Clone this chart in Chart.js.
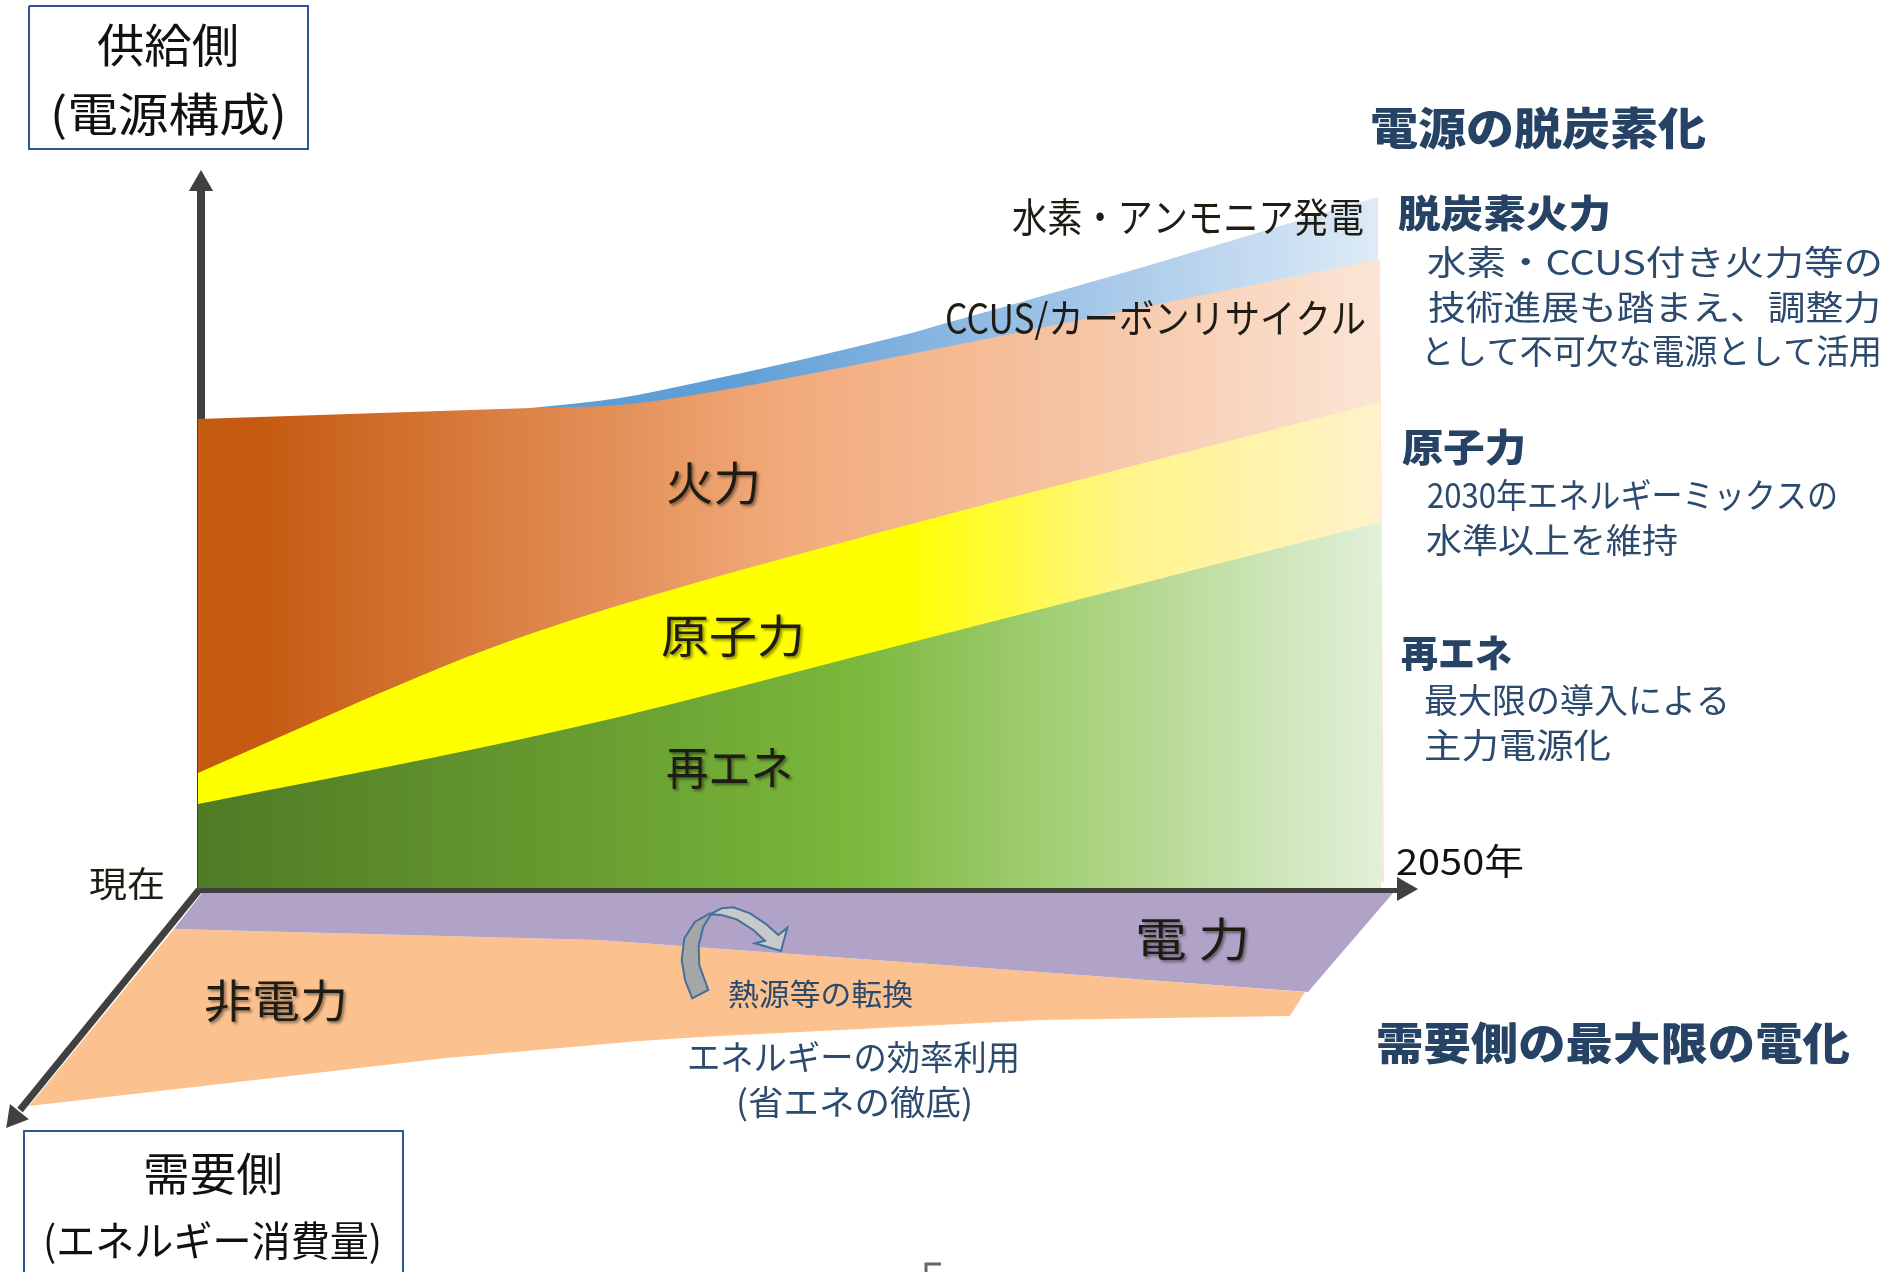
<!DOCTYPE html>
<html lang="ja">
<head>
<meta charset="utf-8">
<title>電源の脱炭素化と需要側の電化</title>
<script src="https://cdn.jsdelivr.net/npm/chart.js@4/dist/chart.umd.min.js"></script>
<style>
    html, body { margin: 0; padding: 0; background: #fff; overflow: hidden; }
    #chart { display: block; }
</style>
</head>
<body>
<canvas id="chart" width="1889" height="1272"></canvas>
<script>
// Supply side: upper edge of each band
const renewableX = [198, 436, 619, 850, 1155, 1381];
const renewableY = [804, 757, 717, 658, 580, 522];
const nuclearX = [198, 418, 507, 637, 900, 1380.5];
const nuclearY = [773, 677, 642, 600, 527, 402];
const thermalX = [198, 531, 620, 700, 900, 1380];
const thermalY = [419, 408, 405, 394, 356, 259];
const hydrogenX = [531, 620, 700, 900, 950, 1150, 1267, 1378];
const hydrogenY = [408, 398, 382, 336, 322, 265, 230, 197];
// thin slanted edge where the thermal band leans out past the others
const thermalLeanX = [1380, 1384];
const thermalLeanY = [259, 882];

// Demand side: the two bands meet along electricBottom
const electricTopX = [174, 202, 1393];
const electricTopY = [929, 893, 893];
const electricBottomX = [174, 598, 640, 1040, 1308, 1393];
const electricBottomY = [929, 940, 943, 972, 992, 893];
const nonElectricTopX = [29, 174, 598, 640, 1040, 1305];
const nonElectricTopY = [1106, 929, 940, 943, 972, 992];
const nonElectricBottomX = [29, 446, 640, 700, 1040, 1290, 1305];
const nonElectricBottomY = [1106, 1058, 1041, 1037, 1020, 1016, 992];

// Axes: shafts, then arrow tips
const axisUpX = [201, 201];
const axisUpY = [890, 190];
const axisRightX = [199, 1400];
const axisRightY = [890.5, 890.5];
const axisDownX = [199, 20];
const axisDownY = [890, 1110];

// Frames around the two axis titles, and the page number cut off at the bottom
const supplyBoxX = [29, 29, 308, 308, 29];
const supplyBoxY = [6, 149, 149, 6, 6];
const demandBoxX = [24, 24, 403, 403];
const demandBoxY = [1290, 1131, 1131, 1290];
const pageMarkX = [926, 926, 941];
const pageMarkY = [1272, 1264, 1264];

// Curved arrow between the demand bands
const switchTailX = [692.3, 685, 681.7, 684.3, 695, 710, 710.7, 703.3, 698.7, 699.3, 708.3];
const switchTailY = [998.3, 980, 960, 938.3, 921.7, 913.3, 915, 926.7, 945, 965, 990];
const switchHeadX = [710, 721.7, 733.3, 750, 765, 778.3, 787.3, 781, 755, 765, 753.3, 736.7, 721.7];
const switchHeadY = [914.3, 908.3, 907.3, 913.3, 923.3, 935, 927.7, 951, 943.3, 940.7, 930, 919.3, 915];

const INK = '#1f1c14';
const NAVY = '#264365';
const BLUE_TEXT = '#2b4a6d';

// text, left, right, vertical centre, font size, weight, colour, shadow
const labels = [
    ['供給側', 97, 239, 45, 46, 400, '#111', false],
    ['(電源構成)', 50, 287, 114, 46, 400, '#111', false],
    ['現在', 89, 165, 884, 35, 400, INK, false],
    ['2050年', 1396, 1524, 861, 36, 400, '#111', false],
    ['需要側', 143, 283, 1174, 45, 400, '#111', false],
    ['(エネルギー消費量)', 43, 382, 1240, 41, 400, '#111', false],
    ['非電力', 204, 348, 1001, 45, 400, INK, true],
    ['火力', 666, 761, 483, 46, 400, INK, true],
    ['原子力', 661, 805, 636, 45, 400, INK, true],
    ['再エネ', 666, 793, 768, 45, 400, INK, true],
    ['電 力', 1135, 1250, 939, 46, 400, INK, true],
    ['水素・アンモニア発電', 1012, 1364, 217, 40, 400, INK, false],
    ['CCUS/カーボンリサイクル', 945, 1366, 318, 40, 400, INK, false],
    ['電源の脱炭素化', 1370, 1706, 128, 44, 900, NAVY, false],
    ['脱炭素火力', 1398, 1611, 213, 38, 900, NAVY, false],
    ['水素・CCUS付き火力等の', 1427, 1883, 262, 34, 400, BLUE_TEXT, false],
    ['技術進展も踏まえ、調整力', 1428, 1881, 307, 34, 400, BLUE_TEXT, false],
    ['として不可欠な電源として活用', 1421, 1882, 351, 34, 400, BLUE_TEXT, false],
    ['原子力', 1402, 1526, 447, 38, 900, NAVY, false],
    ['2030年エネルギーミックスの', 1427, 1838, 495, 34, 400, BLUE_TEXT, false],
    ['水準以上を維持', 1426, 1678, 540, 34, 400, BLUE_TEXT, false],
    ['再エネ', 1401, 1512, 653, 38, 900, NAVY, false],
    ['最大限の導入による', 1424, 1730, 700, 34, 400, BLUE_TEXT, false],
    ['主力電源化', 1424, 1611, 745, 34, 400, BLUE_TEXT, false],
    ['需要側の最大限の電化', 1376, 1850, 1043, 44, 900, NAVY, false],
    ['熱源等の転換', 728, 913, 994, 30, 400, BLUE_TEXT, false],
    ['エネルギーの効率利用', 687, 1020, 1057, 34, 400, BLUE_TEXT, false],
    ['(省エネの徹底)', 736, 973, 1102, 34, 400, BLUE_TEXT, false]
];

const toPoints = (xs, ys) => xs.map((x, i) => ({ x, y: ys[i] }));

// Horizontal gradient across the plot width
function bandGradient(stops) {
    return ({ chart }) => {
        if (!chart.chartArea) return null;
        const { x } = chart.scales;
        const g = chart.ctx.createLinearGradient(x.getPixelForValue(198), 0, x.getPixelForValue(1381), 0);
        stops.forEach(([at, color]) => g.addColorStop(at, color));
        return g;
    };
}

function band(xs, ys, stops, order) {
    return {
        data: toPoints(xs, ys),
        backgroundColor: bandGradient(stops),
        fill: { value: 890 },
        borderWidth: 0,
        pointRadius: 0,
        cubicInterpolationMode: 'monotone',
        order
    };
}

function edge(xs, ys, fill, color, order) {
    return {
        data: toPoints(xs, ys),
        backgroundColor: color,
        fill,
        borderWidth: 0,
        pointRadius: 0,
        order
    };
}

function stroke(xs, ys, color, width, order) {
    return {
        data: toPoints(xs, ys),
        borderColor: color,
        borderWidth: width,
        borderCapStyle: 'butt',
        fill: false,
        pointRadius: 0,
        order
    };
}

function arrowTip(x, y, rotation, order) {
    return {
        data: [{ x, y }],
        showLine: false,
        fill: false,
        pointStyle: 'triangle',
        pointRadius: 14,
        pointRotation: rotation,
        pointBackgroundColor: '#404040',
        pointBorderWidth: 0,
        order
    };
}

// The curved arrow and all text are drawn over the marks, placed through the scales
const annotations = {
    id: 'annotations',
    afterDatasetsDraw(chart) {
        const { ctx, scales: { x, y } } = chart;

        const polygon = (xs, ys, fill) => {
            ctx.beginPath();
            xs.forEach((v, i) => ctx.lineTo(x.getPixelForValue(v), y.getPixelForValue(ys[i])));
            ctx.closePath();
            ctx.fillStyle = fill;
            ctx.fill();
            ctx.lineWidth = 2;
            ctx.strokeStyle = '#41719c';
            ctx.lineJoin = 'miter';
            ctx.stroke();
        };
        polygon(switchHeadX, switchHeadY, '#c9c9c9');
        polygon(switchTailX, switchTailY, '#a6a6a6');

        labels.forEach(([text, left, right, middle, size, weight, color, shadow]) => {
            ctx.save();
            ctx.font = `${weight} ${size}px "Noto Sans CJK JP"`;
            ctx.textAlign = 'left';
            ctx.textBaseline = 'middle';
            ctx.fillStyle = color;
            if (shadow) {
                ctx.shadowColor = 'rgba(0, 0, 0, 0.45)';
                ctx.shadowBlur = 3;
                ctx.shadowOffsetX = 2;
                ctx.shadowOffsetY = 2;
            }
            const natural = ctx.measureText(text).width;
            ctx.translate(x.getPixelForValue(left), y.getPixelForValue(middle));
            ctx.scale((right - left) / natural, 1);
            ctx.fillText(text, 0, 0);
            ctx.restore();
        });
    }
};

new Chart(document.getElementById('chart'), {
    type: 'line',
    data: {
        datasets: [
            // lower order paints later
            stroke(axisUpX, axisUpY, '#404040', 8, 30),
            arrowTip(201, 184, 0, 30),

            band(hydrogenX, hydrogenY, [[0, '#5b9bd5'], [0.45, '#5f9ed7'], [0.75, '#a3c6e8'], [1, '#deebf7']], 25),
            edge(thermalLeanX, thermalLeanY, { value: 882 }, '#fbe5d6', 24),
            band(thermalX, thermalY, [[0, '#c55a11'], [0.05, '#c55a11'], [0.5, '#f2ab7c'], [0.75, '#f6c5a5'], [1, '#fbe5d6']], 24),
            band(nuclearX, nuclearY, [[0, '#ffff00'], [0.6, '#ffff00'], [0.78, '#fff588'], [1, '#fff2cc']], 23),
            band(renewableX, renewableY, [[0, '#507a25'], [0.3, '#659a2f'], [0.55, '#7ab73b'], [0.75, '#a9d27e'], [1, '#e2f0d9']], 22),

            edge(nonElectricTopX, nonElectricTopY, '+1', '#fbc18f', 15),
            edge(nonElectricBottomX, nonElectricBottomY, false, 'transparent', 15),
            edge(electricTopX, electricTopY, '+1', '#b1a2c7', 14),
            edge(electricBottomX, electricBottomY, false, 'transparent', 14),

            stroke(axisRightX, axisRightY, '#404040', 5, 5),
            arrowTip(1404, 889, 90, 5),
            stroke(axisDownX, axisDownY, '#404040', 7, 5),
            arrowTip(15, 1117, 219, 5),

            stroke(supplyBoxX, supplyBoxY, '#2f5597', 2, 4),
            stroke(demandBoxX, demandBoxY, '#2f5597', 2, 4),
            stroke(pageMarkX, pageMarkY, '#666666', 3, 4)
        ]
    },
    options: {
        responsive: false,
        animation: false,
        events: [],
        layout: { padding: 0, autoPadding: false },
        scales: {
            x: { type: 'linear', min: 0, max: 1889, display: false },
            y: { type: 'linear', min: 0, max: 1272, reverse: true, display: false }
        },
        elements: { line: { tension: 0 } },
        plugins: { legend: { display: false }, tooltip: { enabled: false } }
    },
    plugins: [annotations]
});
</script>
</body>
</html>
